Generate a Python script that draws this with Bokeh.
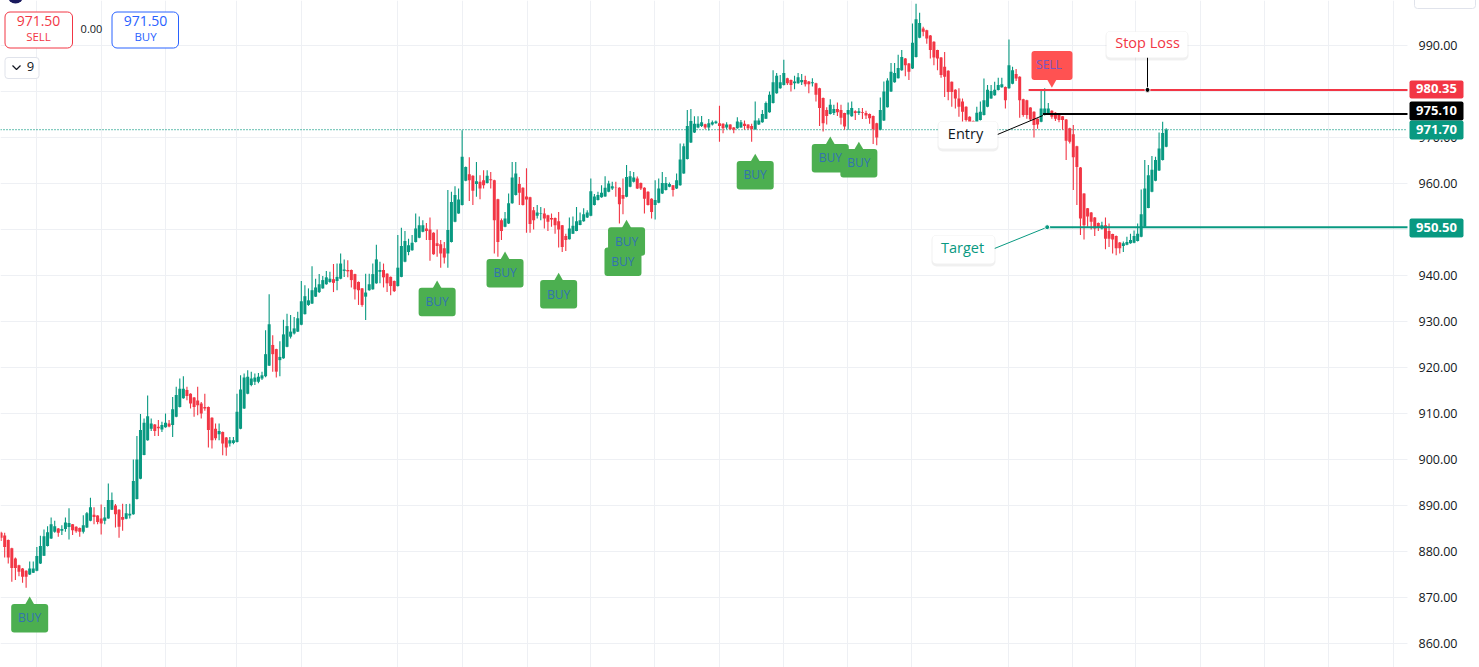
from bokeh.core.properties import value
from bokeh.embed import file_html
from bokeh.models import ColumnDataSource, FixedTicker, Grid, LinearAxis, PrintfTickFormatter, Range1d
from bokeh.plotting import figure
from bokeh.resources import INLINE

opens = [
884.1,883.5,882.5,880.7,878.5,877.0,876.3,875.8,875.0,875.4,
875.8,877.4,879.1,881.2,882.8,884.3,885.0,884.5,884.9,885.3,
885.9,885.4,885.1,884.3,885.2,886.7,888.0,887.8,887.2,886.7,
887.2,889.1,890.0,889.1,887.5,887.1,887.8,888.1,891.4,895.8,
901.0,904.2,906.7,907.6,907.1,906.5,907.0,907.8,907.5,909.3,
911.4,913.3,915.1,914.3,913.5,912.8,912.2,911.4,911.4,909.1,
906.7,905.5,906.0,904.8,903.5,903.6,903.8,906.7,911.1,914.3,
916.2,916.9,916.9,917.6,918.1,920.4,924.9,924.0,921.6,922.0,
924.5,926.7,927.4,927.8,929.3,931.6,933.6,933.9,935.4,936.4,
937.2,938.1,938.6,939.2,938.8,939.3,941.0,941.2,941.2,940.3,
938.6,937.2,935.4,936.8,937.0,938.3,940.8,941.2,940.4,939.7,
938.8,937.7,939.7,943.0,945.1,945.5,947.3,948.2,949.5,950.2,
950.0,949.3,947.0,946.8,945.9,944.8,947.3,951.7,953.5,955.3,
960.6,962.0,961.7,959.9,960.4,960.7,960.1,960.9,960.7,956.6,
952.0,950.6,951.3,955.7,957.5,959.9,959.1,957.2,957.0,954.2,
953.0,953.5,953.5,953.1,952.5,952.5,951.8,950.9,948.6,947.9,
949.1,949.7,951.0,951.8,952.6,953.0,955.3,956.4,957.0,957.2,
958.2,958.9,959.1,959.1,957.5,957.1,959.3,960.4,961.1,960.1,
959.1,958.2,956.7,955.3,955.8,957.8,958.6,959.3,959.6,958.9,
959.6,962.2,965.3,968.9,971.1,972.2,972.5,972.9,972.2,972.8,
973.1,973.1,973.0,972.2,972.8,972.2,972.0,972.2,973.0,972.8,
972.5,971.8,972.8,973.3,974.1,975.5,977.5,979.6,980.7,981.4,
982.9,982.5,981.8,981.8,982.0,982.5,982.2,981.8,981.8,980.7,
978.6,976.0,975.1,975.3,976.2,976.0,975.3,975.0,974.6,975.7,
975.3,975.5,975.3,975.1,974.7,973.1,971.7,973.7,976.6,980.0,
982.0,982.9,984.6,987.2,986.1,985.0,987.5,991.7,993.7,993.3,
992.2,990.8,989.0,987.4,985.4,984.5,982.1,980.4,978.5,977.8,
976.7,974.5,973.6,973.3,973.8,974.9,976.7,978.5,979.2,980.3,
980.9,981.0,980.7,981.7,983.8,983.2,978.3,978.1,976.5,975.6,
974.1,973.4,974.9,975.2,975.8,975.4,974.9,974.6,973.9,972.0,
970.7,968.1,963.5,957.8,954.6,953.7,952.6,951.4,950.2,950.9,
949.7,949.0,948.6,947.2,946.4,946.7,947.0,947.1,947.5,948.4,
950.6,954.7,958.2,960.6,962.8,965.1,968.0]

closes = [
883.0,881.0,878.7,876.4,876.4,875.6,874.5,874.5,876.3,876.3,
879.0,881.2,883.3,884.2,885.9,885.5,884.1,884.9,886.3,886.2,
884.6,884.4,884.3,885.7,888.3,889.6,887.5,886.4,886.1,887.4,
891.2,891.2,888.1,885.4,886.9,888.3,888.2,895.3,900.0,906.4,
908.0,909.4,907.8,906.2,906.8,907.5,908.0,907.2,910.9,914.0,
915.4,915.4,913.8,912.2,911.4,911.8,910.0,911.1,906.4,904.2,
904.6,906.2,903.5,902.6,904.2,904.2,910.4,915.2,917.8,918.0,
917.6,917.8,918.0,918.3,922.9,929.4,922.9,919.1,922.3,927.2,
929.0,927.8,928.5,930.7,934.4,935.5,934.6,936.8,937.4,938.1,
939.0,939.6,939.3,938.4,939.7,942.6,941.3,940.9,939.0,937.0,
936.8,933.6,936.3,938.1,940.3,943.5,941.2,939.6,938.3,937.7,
936.6,941.7,946.4,947.5,946.6,947.1,950.2,950.9,950.9,949.7,
947.7,944.6,946.4,944.8,943.9,949.9,956.0,957.5,956.5,965.8,
963.6,960.7,958.4,960.5,958.9,959.6,961.7,960.7,952.0,947.3,
949.7,952.4,955.7,961.3,962.2,958.0,955.3,956.5,951.2,952.0,
953.7,953.6,952.4,951.7,952.2,950.9,950.0,946.2,947.7,950.2,
950.8,951.8,952.0,953.3,953.7,958.3,957.2,957.5,958.0,959.1,
960.0,959.4,959.0,955.5,956.7,961.4,961.6,961.3,958.9,958.9,
956.7,955.3,953.8,956.4,958.9,960.1,960.1,959.9,958.6,960.7,
965.2,968.1,972.5,973.6,973.0,973.0,973.3,972.2,973.1,973.3,
973.5,972.5,972.0,972.8,971.8,971.7,973.5,973.3,972.5,972.0,
971.8,973.7,973.7,975.1,977.5,979.3,982.0,983.4,982.0,984.0,
981.8,981.4,982.2,983.1,982.5,981.6,981.6,982.0,979.3,976.4,
973.1,974.7,977.1,976.2,975.5,974.3,972.4,976.0,976.4,975.3,
975.7,975.3,974.8,974.2,971.8,970.0,976.0,980.0,982.4,984.3,
984.0,985.1,987.5,985.7,984.3,990.6,995.7,994.9,993.0,991.5,
989.0,987.4,987.2,983.6,983.2,979.9,979.9,978.5,976.7,975.6,
973.8,972.1,972.3,975.4,975.6,978.1,980.4,980.1,980.4,981.4,
981.6,978.1,985.7,984.6,982.8,978.1,974.9,974.9,973.9,972.7,
972.8,976.3,976.3,976.3,974.5,974.1,973.8,973.8,969.3,969.1,
965.7,963.6,952.4,950.9,952.8,951.7,950.2,950.4,950.9,948.0,
948.0,947.8,945.9,945.9,947.0,947.3,947.7,948.6,949.1,953.3,
958.9,961.8,963.0,965.1,967.6,971.0,971.7]

highs = [
884.3,884.1,882.6,880.8,878.7,877.1,876.4,875.9,877.8,877.8,
881.0,883.4,884.8,885.5,887.4,886.7,885.1,885.7,887.4,889.4,
886.0,885.5,885.2,887.9,888.6,891.7,889.6,887.9,890.2,889.7,
894.8,892.8,890.3,889.2,890.4,890.3,890.4,900.0,905.1,909.9,
908.9,913.9,908.9,907.7,908.6,908.2,910.0,908.6,913.6,915.8,
917.6,918.1,915.8,914.4,913.6,915.8,912.5,914.3,911.5,909.2,
907.8,907.8,906.1,904.9,904.9,904.9,914.3,918.3,918.7,919.4,
919.1,918.7,918.8,919.1,928.1,935.9,927.0,924.1,925.7,930.4,
931.7,931.4,931.0,932.1,938.8,937.9,937.2,942.0,939.3,940.3,
939.9,941.0,940.8,942.5,942.6,944.8,943.5,943.3,941.3,940.4,
938.7,937.3,940.4,940.4,942.6,946.7,943.0,942.6,940.5,939.8,
938.9,948.8,950.4,949.7,948.0,948.8,953.5,952.8,952.0,951.4,
952.6,949.4,950.0,947.7,947.3,958.6,958.2,959.4,958.9,971.6,
963.7,965.7,961.8,964.7,961.8,962.9,962.9,962.5,960.8,956.7,
952.4,953.8,957.8,964.7,964.7,961.4,959.2,963.3,957.1,954.9,
955.3,954.9,954.6,953.2,953.5,952.6,953.8,951.0,949.1,952.6,
952.8,954.9,953.7,954.6,954.2,961.1,957.7,958.2,959.6,961.6,
960.6,960.4,960.4,959.2,961.1,964.0,962.7,962.5,961.5,960.2,
959.2,958.3,956.8,960.7,961.1,962.5,961.4,960.2,959.7,962.2,
968.7,968.7,976.0,976.2,974.6,974.6,974.7,973.0,974.0,973.7,
973.7,976.9,973.1,973.3,972.9,972.3,974.4,973.8,973.7,972.9,
973.0,977.8,974.2,976.0,977.8,980.0,984.6,984.0,983.6,986.9,
983.0,982.6,983.4,984.0,983.8,983.4,982.3,982.9,981.9,980.8,
978.7,976.6,978.3,977.1,977.6,977.1,975.4,977.6,977.8,975.9,
976.4,976.4,975.8,975.2,974.8,973.2,978.7,982.2,982.9,986.2,
986.2,988.0,989.0,987.3,986.2,994.8,999.1,997.1,994.1,993.4,
992.3,990.9,989.1,987.5,988.6,984.6,982.2,980.5,980.7,978.5,
976.8,974.6,973.7,976.7,977.8,982.8,981.4,981.4,982.1,983.0,
983.0,981.1,991.3,985.4,984.9,983.3,978.4,978.2,976.6,975.7,
974.2,980.3,980.7,977.5,975.9,975.5,975.0,974.7,974.0,972.1,
972.7,968.2,963.6,957.9,954.7,953.8,952.7,951.5,951.7,952.6,
951.3,949.1,948.7,947.3,947.4,948.4,949.1,949.8,951.3,958.7,
965.1,964.0,966.0,965.8,971.1,973.4,972.0]

lows = [
882.3,878.7,877.4,873.4,873.8,874.6,873.2,872.1,874.9,875.3,
875.7,877.3,879.0,881.1,882.7,884.1,883.2,883.6,884.3,882.6,
883.6,884.1,883.2,883.9,885.1,886.6,885.9,885.9,883.7,885.9,
887.1,889.0,885.2,883.0,884.5,887.0,887.2,888.0,891.3,895.7,
900.9,904.1,906.2,905.1,905.1,906.0,906.9,907.0,904.9,909.2,
911.3,913.2,912.9,911.1,909.3,909.6,908.9,910.6,902.6,902.4,
904.2,904.2,900.9,900.8,902.8,903.3,903.7,906.6,911.0,914.2,
915.9,916.2,916.6,917.3,917.9,920.3,919.1,917.8,918.1,921.9,
924.4,926.3,927.2,927.7,929.2,931.5,933.4,933.8,935.3,936.2,
937.1,938.0,938.4,936.4,936.8,939.2,939.7,939.6,937.4,934.8,
933.6,933.2,930.3,936.7,936.9,938.2,938.3,937.4,936.4,935.7,
936.4,937.6,939.6,942.9,944.4,945.4,947.2,948.1,949.4,947.7,
943.2,944.5,944.1,941.7,942.6,941.7,947.2,951.6,953.4,955.2,
960.5,956.2,955.3,957.1,956.6,958.9,960.0,958.9,944.8,944.1,
947.7,950.5,951.2,955.6,957.4,955.3,955.2,949.3,949.3,950.0,
952.4,952.0,950.2,949.7,950.6,949.1,946.1,945.1,945.3,947.8,
949.0,949.6,950.9,951.7,952.5,952.9,955.2,956.3,956.9,957.1,
958.1,958.6,957.1,951.3,953.3,957.0,959.2,960.2,958.8,958.6,
953.5,955.2,952.4,952.2,955.7,957.7,958.5,959.2,957.2,958.8,
959.5,962.1,965.2,968.8,971.0,972.0,972.3,971.8,971.5,972.6,
973.0,969.1,970.9,971.8,971.7,970.9,971.9,972.1,971.7,971.7,
969.1,971.7,972.7,973.2,974.0,975.4,977.4,979.5,980.6,981.3,
981.4,980.0,980.5,981.7,981.4,981.1,979.6,981.1,977.8,972.5,
971.3,972.8,975.0,974.9,974.7,972.8,971.7,971.7,974.5,973.8,
974.9,974.0,974.0,973.0,968.6,968.3,971.6,973.6,976.5,979.9,
981.9,982.8,984.5,983.3,982.5,984.9,987.4,991.6,992.0,990.4,
987.2,985.7,984.6,983.0,978.8,978.1,976.7,976.3,974.5,973.0,
970.5,971.2,969.1,973.2,973.7,974.8,976.6,978.4,979.1,980.2,
980.8,976.3,980.6,981.6,982.3,974.3,974.5,974.1,973.6,970.0,
971.9,973.3,974.8,975.1,974.1,973.6,973.3,971.7,965.1,968.7,
958.6,955.3,948.8,947.8,950.6,950.0,948.6,949.7,950.0,945.7,
946.2,944.8,944.4,944.8,945.1,946.6,946.9,947.0,947.4,948.3,
950.5,954.6,958.1,960.5,962.7,965.0,967.9]

price_ticks = [860, 870, 880, 890, 900, 910, 920, 930, 940, 950, 960, 970, 980, 990]
time_grid_bars = [9.8, 28.0, 45.9, 66.0, 84.0, 110.8, 129.0, 147.2, 164.8, 182.7, 200.9, 218.8, 236.7, 254.6,
                  281.8, 299.7, 317.5, 335.7, 353.6, 371.5, 389.5]

buy_bars = [8, 122, 141, 156, 174, 175, 211, 232, 240]
buy_tips = [869.7, 938.4, 944.7, 940.1, 947.2, 951.6, 966.0, 969.7, 968.6]
sell_bars = [294]
sell_tips = [981.2]

level_names = ["Stop Loss", "Entry", "Target"]
level_prices = [980.35, 975.10, 950.50]
level_start_bars = [287.5, 291.5, 292.7]
last_price = 971.70
quote_price = "971.50"
quote_spread = "0.00"
lot_size = "9"

GREEN, RED, BLACK, BLUE = "#089981", "#F23645", "#000000", "#2962FF"
FONT = "Open Sans"
BAR_PX, UNIT_PX = 3.574, 4.6
BAR0_PX, P990_PX = 0.6, 45.0


def X(px):
    return (px - BAR0_PX) / BAR_PX


def Y(py):
    return 990 - (py - P990_PX) / UNIT_PX


W, H = 1479, 667
p = figure(width=W, height=H, output_backend="svg", toolbar_location=None,
           x_range=Range1d(X(0), X(W)), y_range=Range1d(Y(H), Y(0)),
           x_axis_type=None, y_axis_type=None, min_border=0, outline_line_color=None,
           background_fill_color="white", border_fill_color="white")
GRID = "#eef0f4"
axis = LinearAxis(fixed_location=X(1418), ticker=FixedTicker(ticks=price_ticks),
                  formatter=PrintfTickFormatter(format="%.2f"),
                  axis_line_color=None, major_tick_line_color=None, minor_tick_line_color=None,
                  major_label_text_color="#131722", major_label_text_font=FONT,
                  major_label_text_font_size="12.5px", major_label_standoff=0,
                  major_tick_in=0, major_tick_out=0)
p.add_layout(axis, "right")
p.add_layout(Grid(dimension=0, ticker=FixedTicker(ticks=time_grid_bars), grid_line_color=GRID, grid_line_width=1))
p.add_layout(Grid(dimension=1, ticker=FixedTicker(ticks=price_ticks), grid_line_color=GRID, grid_line_width=1))

# white price-scale strip
p.quad(left=[X(1407)], right=[X(1490)], top=[Y(0)], bottom=[Y(680)], fill_color="white", line_color=None)

# last price dotted line
dotted = p.segment(x0=[X(0)], x1=[X(1407)], y0=[last_price], y1=[last_price], line_color=GREEN, line_width=1.3)
dotted.glyph.line_dash = [1, 2]

# candles
bars = list(range(len(opens)))
colors = [GREEN if c >= o else RED for o, c in zip(opens, closes)]
src = ColumnDataSource(dict(x=bars, h=highs, l=lows,
                            top=[max(a, b) for a, b in zip(opens, closes)],
                            bot=[min(a, b) for a, b in zip(opens, closes)], col=colors))
p.segment(x0="x", x1="x", y0="l", y1="h", line_color="col", line_width=1.1, source=src)
p.vbar(x="x", width=0.84, top="top", bottom="bot", fill_color="col", line_color=None, source=src)

# horizontal levels
level_colors = [RED, BLACK, GREEN]
p.segment(x0=level_start_bars, x1=[X(1407)] * 3, y0=level_prices, y1=level_prices,
          line_color=level_colors, line_width=2)


def ui_box(x0, x1, y0, y1, fill="white", line=None, radius=0, level="annotation", alpha=1.0, lw=1):
    p.quad(left=[X(x0)], right=[X(x1)], top=[Y(y0)], bottom=[Y(y1)], fill_color=fill, fill_alpha=alpha,
           line_color=line, line_width=lw, border_radius=radius, level=level)


def ui_text(x, y, t, color, size, style="normal", align="center"):
    p.text(x=[X(x)], y=[Y(y - 0.8)], text=[t], text_color=color, text_font=value(FONT), text_font_size=f"{size}px",
           text_font_style=style, text_align=align, text_baseline="middle", level="annotation")


# BUY markers
for b, tip in zip(buy_bars, buy_tips):
    cx = BAR0_PX + b * BAR_PX
    p.quad(left=[X(cx - 18.5)], right=[X(cx + 18.5)], top=[tip - 5 / UNIT_PX], bottom=[tip - 33.5 / UNIT_PX],
           fill_color="#4CAF50", line_color=None, border_radius=3)
    p.scatter(x=[b], y=[tip - 3.5 / UNIT_PX], marker="triangle", size=10, fill_color="#4CAF50", line_color=None)
for b, tip in zip(buy_bars, buy_tips):
    p.text(x=[b], y=[tip - 19 / UNIT_PX], text=["BUY"], text_color="#3273B0", text_font=value(FONT),
           text_font_size="12px", text_align="center", text_baseline="middle")

# SELL marker
for b, tip in zip(sell_bars, sell_tips):
    p.quad(left=[X(1031)], right=[X(1072)], top=[tip + 35 / UNIT_PX], bottom=[tip + 6 / UNIT_PX],
           fill_color="#FF5252", line_color=None, border_radius=3)
    p.scatter(x=[b], y=[tip + 4 / UNIT_PX], marker="inverted_triangle", size=10, fill_color="#FF5252", line_color=None)
    p.text(x=[b - 0.8], y=[tip + 21 / UNIT_PX], text=["SELL"], text_color="#7A55C4", text_font=value(FONT),
           text_font_size="12px", text_align="center", text_baseline="middle")

# callout connectors
p.line([X(1147), X(1147)], [Y(57), level_prices[0]], line_color=BLACK, line_width=1, level="annotation")
p.line([X(997), level_start_bars[1]], [Y(134), Y(115)], line_color=BLACK, line_width=1)
p.line([X(994), level_start_bars[2]], [Y(248), level_prices[2]], line_color=GREEN, line_width=1)
p.scatter(x=[X(1147)], y=[level_prices[0]], size=5, fill_color=BLACK, line_color="white", level="annotation")
p.scatter(x=[level_start_bars[2]], y=[level_prices[2]], size=5, fill_color=GREEN, line_color="white")

# callouts
for (x0, x1, y0, y1), name, col, cx, cy in zip([(1106, 1187, 31, 57), (938, 997, 121, 148), (932, 994, 235, 263)],
                                               level_names, [RED, "#131722", GREEN], [1147, 965, 962], [43, 134, 248]):
    ui_box(x0 - 1, x1 + 1, y0 - 0.5, y1 + 3, fill="#000000", alpha=0.06, radius=5)
    ui_box(x0, x1, y0, y1, radius=4)
    ui_text(cx, cy, name, col, 14.5)

# price tags
tag_rows = [(level_prices[0], RED, 80, 98), (level_prices[1], BLACK, 101, 120),
            (last_price, GREEN, 120, 139), (level_prices[2], GREEN, 218, 237)]
for price, col, y0, y1 in tag_rows:
    ui_box(1409, 1463, y0, y1, fill=col, radius=2)
    ui_text(1436, (y0 + y1) / 2, f"{price:.2f}", "white", 13, style="bold")

# top-left order panel
ui_box(4.5, 72, 11.5, 47.5, line=RED, radius=5)
ui_text(38, 21, quote_price, RED, 14)
ui_text(38, 37, "SELL", RED, 11.5)
ui_text(91, 29, quote_spread, "#131722", 11)
ui_box(111.5, 178, 11.5, 47.5, line=BLUE, radius=5)
ui_text(145, 21, quote_price, BLUE, 14)
ui_text(145, 37, "BUY", BLUE, 11.5)
ui_box(4.5, 38.5, 57, 78, line="#e0e3eb", radius=3)
p.line([X(12), X(16), X(20)], [Y(65), Y(69), Y(65)], line_color="#131722", line_width=1.2, level="annotation")
ui_text(30, 67, lot_size, "#131722", 13)

# top edge: logo circle and corner button, cut off by the window
p.circle(x=[X(15)], y=[Y(-5)], radius=8, radius_units="screen", fill_color="#1a1a5e", line_color=None, level="annotation")
ui_box(1414, 1475, -10, 8, line="#e0e3eb", radius=3)

open("out.html", "w").write(file_html(p, INLINE))
